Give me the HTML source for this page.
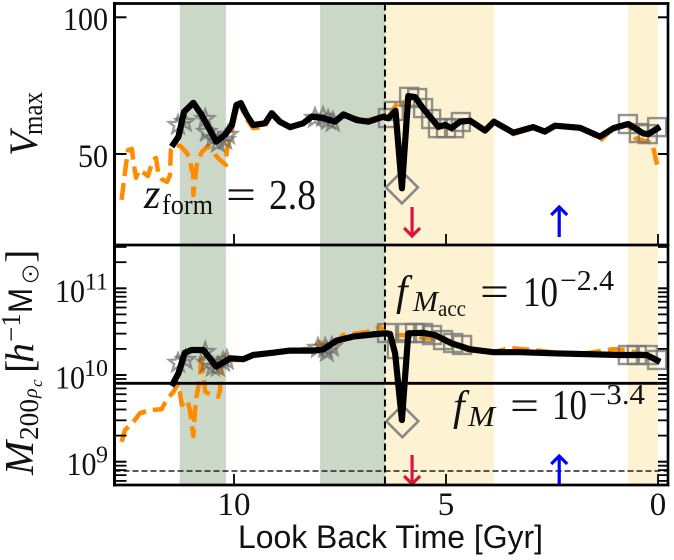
<!DOCTYPE html>
<html lang="en">
<head>
<meta charset="utf-8">
<title>Halo evolution chart</title>
<style>
html,body{margin:0;padding:0;background:#fff;width:674px;height:560px;overflow:hidden}
svg{display:block}
text{font-family:"Liberation Serif",serif;fill:#111}
.sans{font-family:"Liberation Sans",sans-serif}
.it{font-style:italic}
</style>
</head>
<body>
<svg id="chart" width="674" height="560" viewBox="0 0 674 560" xmlns="http://www.w3.org/2000/svg">
  <g id="bands"></g>
  <g id="series"></g>
  <g id="axes"></g>

  <g>
    <text class="it" font-size="40" transform="translate(37,156) rotate(-90)">V</text>
    <text font-size="28" textLength="43" lengthAdjust="spacingAndGlyphs" transform="translate(42,135) rotate(-90)">max</text>
  </g>
  <g>
    <text class="it" font-size="41" transform="translate(33,475) rotate(-90)">M</text>
    <text font-size="27" textLength="41" lengthAdjust="spacingAndGlyphs" transform="translate(38,440) rotate(-90)">200</text>
    <text class="it" font-size="20" transform="translate(37,398) rotate(-90)">ρ</text>
    <text class="it" font-size="17" transform="translate(42,387) rotate(-90)">c</text>
    <text font-size="40" transform="translate(33,373) rotate(-90)">[</text>
    <text class="it" font-size="40" transform="translate(33,363) rotate(-90)">h</text>
    <text font-size="27" transform="translate(20,342) rotate(-90)">−1</text>
    <text class="sans" font-size="34" textLength="25" lengthAdjust="spacingAndGlyphs" transform="translate(32,313) rotate(-90)">M</text>
    <circle cx="30.5" cy="274" r="7.5" fill="none" stroke="#111" stroke-width="1.2"/>
    <circle cx="30.5" cy="274" r="1.4" fill="#111"/>
    <text font-size="40" transform="translate(33,263) rotate(-90)">]</text>
  </g>
  <text class="sans" x="238" y="548" font-size="32" textLength="305" lengthAdjust="spacingAndGlyphs">Look Back Time [Gyr]</text>

  <g>
    <text class="it" x="144" y="208" font-size="42">z</text>
    <text x="162" y="214" font-size="28" textLength="51" lengthAdjust="spacingAndGlyphs">form</text>
    <text x="226" y="209" font-size="42" textLength="30" lengthAdjust="spacingAndGlyphs">=</text>
    <text x="269" y="209" font-size="42" textLength="47" lengthAdjust="spacingAndGlyphs">2.8</text>
  </g>
  <g>
    <text class="it" x="396" y="305" font-size="42">f</text>
    <text class="it" x="413" y="311" font-size="29" textLength="25" lengthAdjust="spacingAndGlyphs">M</text>
    <text x="438" y="316" font-size="23" textLength="28" lengthAdjust="spacingAndGlyphs">acc</text>
    <text x="480" y="306" font-size="42" textLength="29" lengthAdjust="spacingAndGlyphs">=</text>
    <text x="523" y="306" font-size="42" textLength="35" lengthAdjust="spacingAndGlyphs">10</text>
    <text x="560" y="290" font-size="29" textLength="54" lengthAdjust="spacingAndGlyphs">−2.4</text>
  </g>
  <g>
    <text class="it" x="453" y="420" font-size="42">f</text>
    <text class="it" x="468" y="426" font-size="29" textLength="27" lengthAdjust="spacingAndGlyphs">M</text>
    <text x="510" y="420" font-size="42" textLength="29" lengthAdjust="spacingAndGlyphs">=</text>
    <text x="552" y="419" font-size="42" textLength="35" lengthAdjust="spacingAndGlyphs">10</text>
    <text x="589" y="404" font-size="29" textLength="56" lengthAdjust="spacingAndGlyphs">−3.4</text>
  </g>
</svg>
<script>
// Axis values
const xTicks = [10, 5, 0];
const vTicks = [50, 100];
const massDecades = [-2, -1, 0, 1, 2];
const massMinorMultiples = [2, 3, 4, 5, 6, 7, 8, 9];
const massLabelExponents = [9, 10, 11];

// Shaded look-back-time intervals (Gyr)
const greenBandStarts = [11.28, 7.97];
const greenBandEnds = [10.19, 6.44];
const yellowBandStarts = [6.44, 0.71];
const yellowBandEnds = [3.87, 0];

const eventTime = 6.44;
const accretionArrowTime = 5.8;
const infallArrowTime = 2.33;
const massSolidLevel = 0.802;
const massDashedLevel = 0.0781;

// Vmax series
const vBlackT = [11.47,11.31,11.18,10.96,10.76,10.57,10.42,10.21,10.05,9.94,9.84,9.70,9.55,9.27,9.11,8.92,8.68,8.37,8.17,7.90,7.62,7.42,7.11,6.83,6.48,6.36,6.19,6.04,5.89,5.73,5.54,5.18,5.02,4.87,4.67,4.43,4.08,3.87,3.41,2.94,2.67,2.43,1.84,1.37,1.05,0.70,0.35,0.23,-0.05];
const vBlackV = [51.9,54.6,61.9,64.8,60.9,56.5,53.2,55.1,57.9,64.1,64.7,60.9,57.9,58.4,61.5,58.9,57.3,58.4,60.4,60,58.9,61.1,59.4,58.9,60.4,59.9,62.2,42,67.1,66.7,63,57.4,57.9,57,58.9,59.2,56.3,58.9,55.7,57.3,56,57.7,57.1,54.6,57,58.2,55.5,55.3,57.4];
const vOrangeT = [12.65,12.57,12.50,12.41,12.36,12.31,12.24,12.15,12.03,11.91,11.84,11.79,11.70,11.58,11.51,11.49,11.39,11.27,11.13,11.04,11.00,10.96,10.96,10.88,10.76,10.61,10.38,10.19,10.17,10.05,9.95,9.86,9.72,9.55,9.27,9.13,8.92,8.68,8.37,8.18,7.90,7.62,7.43,7.12,6.84,6.49,6.37,6.18,6.08,5.97,5.73,5.54,5.19,5.02,4.86,4.67,4.43,4.08,3.87,3.42,2.95,2.67,2.43,1.84,1.60,1.37,1.06,0.71,0.54,0.14,0.02];
const vOrangeV = [39.6,45.6,51,51.3,47.3,44.3,46.1,45.6,44.7,48.5,49,45.6,44,43.4,44.9,51,52.3,52.1,50.5,49,46.1,45.5,40.6,47.3,50.5,52.1,49,47.3,51,56.5,63.1,64.4,60,57,57.3,61.2,58.8,57,58.2,60.3,60,58.8,61.2,60,59.4,60.6,60,64.1,62.5,65.2,66.8,63.1,57,57.6,56.8,58.8,59.1,56.2,58.8,55.3,57,55.9,57.6,57,55.9,53.4,57,58.2,54.2,52.9,47.3];
const vStarT = [11.32,11.16,10.68,10.64,10.50,10.38,10.21,10.14,8.09,7.90,7.78,7.67];
const vStarV = [57.9,58.8,59.7,55.9,54.2,52.9,53.7,55.1,60,60.3,59.4,58.8];
const vSquareT = [6.37,6.23,5.87,5.68,5.54,5.35,5.19,5.00,4.81,4.65,0.71,0.45,0.24,0.02];
const vSquareV = [60,62.2,66.8,66.4,63.1,59.7,57,57,57,58.8,58.2,55.6,55.3,57.3];
const vDiamondT = [6.04];
const vDiamondV = [42.2];

// Mass series (units of 1e10 / h solar masses)
const mBlackT = [11.47,11.31,11.16,11.00,10.72,10.42,10.09,9.78,9.55,9.07,8.68,8.13,7.89,7.58,7.19,6.63,6.40,6.32,6.20,6.04,5.89,5.54,5.26,4.87,4.43,3.88,3.25,2.47,0.90,0.27,-0.05];
const mBlackM = [0.746,1.05,1.81,1.94,1.94,1.25,1.56,1.52,1.70,1.81,1.91,1.91,1.98,2.49,2.77,2.97,3.03,2.97,1.78,0.303,3.03,3.07,2.89,2.32,1.98,1.83,1.83,1.78,1.70,1.70,1.42];
const mOrangeT = [12.65,12.57,12.37,12.22,11.98,11.71,11.59,11.43,11.31,11.23,11.10,11.04,10.96,10.90,10.80,10.78,10.68,10.53,10.37,10.33,10.29,10.09,9.79,9.55,9.08,8.68,8.14,7.97,7.74,7.43,6.86,6.56,6.32,6.04,5.54,5.14,4.50,3.87,3.49,2.95,2.31,1.67,1.06,0.78,0.26,-0.05];
const mOrangeM = [0.170,0.232,0.289,0.362,0.395,0.402,0.515,0.642,0.802,0.451,0.515,0.395,0.198,0.515,0.916,1.78,0.642,0.588,0.562,0.671,1.78,1.49,1.49,1.66,1.79,1.89,2.05,2.40,1.94,2.89,3.13,3.58,2.74,2.89,2.67,2.60,1.94,1.84,2.05,1.94,1.79,1.79,1.99,1.94,1.70,1.41];
const mStarT = [11.32,11.14,10.68,10.64,10.50,10.38,10.26,10.17,8.02,7.85,7.69,7.81];
const mStarM = [1.38,1.49,1.84,1.38,1.24,1.24,1.41,1.49,2.05,2.05,2.10,1.84];
const mSquareT = [6.39,6.16,5.92,5.73,5.54,5.33,5.07,4.83,4.62,0.71,0.50,0.24,0.02];
const mSquareM = [3.05,1.99,3.05,3.05,3.05,2.89,2.53,2.34,2.22,1.70,1.70,1.70,1.49];
const mDiamondT = [6.03];
const mDiamondM = [0.293];

// Axis functions and layout
const LEFT = 114.5, RIGHT = 668, TOP = 3.5, MID = 245, BOTTOM = 485;
const xT = t => 658 - 42.4 * t;
const yV = v => 17.3 + 454 * Math.log10(100 / v);
const yM = m => 375 - 86.7 * Math.log10(m);

const NS = 'http://www.w3.org/2000/svg';
const bandsLayer = document.getElementById('bands');
const seriesLayer = document.getElementById('series');
const axesLayer = document.getElementById('axes');

function make(tag, parent, attrs) {
  const el = document.createElementNS(NS, tag);
  for (const k in attrs) el.setAttribute(k, attrs[k]);
  parent.appendChild(el);
  return el;
}

function drawBand(t0, t1, color) {
  const el = make('rect', bandsLayer, {x: xT(t0), y: TOP, width: xT(t1) - xT(t0), height: BOTTOM - TOP, fill: color});
  
  
}
greenBandStarts.forEach((s, i) => drawBand(s, greenBandEnds[i], '#cbd8c8'));
yellowBandStarts.forEach((s, i) => drawBand(s, yellowBandEnds[i], '#fdf3d3'));

function pathFrom(ts, vs, yFn) {
  return ts.map((t, i) => (i ? 'L' : 'M') + xT(t).toFixed(1) + ' ' + yFn(vs[i]).toFixed(1)).join(' ');
}
function drawOrange(ts, vs, yFn) {
  const el = make('path', seriesLayer, {d: pathFrom(ts, vs, yFn), fill: 'none', stroke: '#ff8c00', 'stroke-width': 4.5, 'stroke-dasharray': '17 7', 'stroke-linejoin': 'round'});
  
  
}
function drawBlack(ts, vs, yFn) {
  const el = make('path', seriesLayer, {d: pathFrom(ts, vs, yFn), fill: 'none', stroke: '#000', 'stroke-width': 6.2, 'stroke-linejoin': 'round', 'stroke-linecap': 'butt'});
  
  
}
function drawStars(ts, vs, yFn) {
  ts.forEach((t, i) => {
    const cx = xT(t), cy = yFn(vs[i]);
    let pts = '';
    for (let k = 0; k < 10; k++) {
      const r = k % 2 ? 4 : 9.5, a = -Math.PI / 2 + k * Math.PI / 5;
      pts += (cx + r * Math.cos(a)).toFixed(1) + ',' + (cy + r * Math.sin(a)).toFixed(1) + ' ';
    }
    const el = make('polygon', seriesLayer, {points: pts, fill: 'none', stroke: '#666', 'stroke-width': 2.4, opacity: 0.65});
    
    
  });
}
function drawSquares(ts, vs, yFn) {
  ts.forEach((t, i) => {
    const el = make('rect', seriesLayer, {x: xT(t) - 9, y: yFn(vs[i]) - 9, width: 18, height: 18, fill: 'none', stroke: '#777', 'stroke-width': 2.4, opacity: 0.8});
    
    
  });
}
function drawDiamonds(ts, vs, yFn) {
  ts.forEach((t, i) => {
    const cx = xT(t), cy = yFn(vs[i]), r = 16;
    const el = make('polygon', seriesLayer, {points: `${cx},${cy - r} ${cx + r},${cy} ${cx},${cy + r} ${cx - r},${cy}`, fill: 'none', stroke: '#888', 'stroke-width': 2.6});
    
    
  });
}

drawOrange(vOrangeT, vOrangeV, yV);
drawOrange(mOrangeT, mOrangeM, yM);
drawStars(vStarT, vStarV, yV);
drawStars(mStarT, mStarM, yM);
drawSquares(vSquareT, vSquareV, yV);
drawSquares(mSquareT, mSquareM, yM);
drawDiamonds(vDiamondT, vDiamondV, yV);
drawDiamonds(mDiamondT, mDiamondM, yM);
drawBlack(vBlackT, vBlackV, yV);
drawBlack(mBlackT, mBlackM, yM);

// Reference lines
const solid = make('line', seriesLayer, {x1: LEFT, x2: RIGHT, y1: yM(massSolidLevel), y2: yM(massSolidLevel), stroke: '#000', 'stroke-width': 2.8});


const dashed = make('line', seriesLayer, {x1: LEFT, x2: RIGHT, y1: yM(massDashedLevel), y2: yM(massDashedLevel), stroke: '#222', 'stroke-width': 1.5, 'stroke-dasharray': '6 3'});


const eventLine = make('line', seriesLayer, {x1: xT(eventTime), x2: xT(eventTime), y1: TOP, y2: BOTTOM, stroke: '#000', 'stroke-width': 2, 'stroke-dasharray': '7 4'});



// Arrows
function drawArrow(t, yTop, yBottom, color, down, name) {
  const x = xT(t);
  const tipY = down ? yBottom : yTop;
  const dir = down ? -1 : 1;
  const el = make('path', seriesLayer, {d: `M${x} ${yTop} L${x} ${yBottom} M${x - 8} ${tipY + dir * 8} L${x} ${tipY} L${x + 8} ${tipY + dir * 8}`, fill: 'none', stroke: color, 'stroke-width': 3.2});
  
  
}
drawArrow(accretionArrowTime, 207, 236, '#dc143c', true, 'accretion-arrow-top');
drawArrow(infallArrowTime, 207, 237, '#0000ff', false, 'infall-arrow-top');
drawArrow(accretionArrowTime, 455, 484, '#dc143c', true, 'accretion-arrow-bottom');
drawArrow(infallArrowTime, 456, 485, '#0000ff', false, 'infall-arrow-bottom');

// Spines
function spine(x1, y1, x2, y2, w) {
  const el = make('line', axesLayer, {x1, y1, x2, y2, stroke: '#000', 'stroke-width': w, 'stroke-linecap': 'square'});
  
  
}
spine(LEFT, TOP, RIGHT, TOP, 2.8);
spine(LEFT, MID, RIGHT, MID, 2.8);
spine(LEFT, BOTTOM, RIGHT, BOTTOM, 2.8);
spine(LEFT, TOP, LEFT, BOTTOM, 3);
spine(RIGHT, TOP, RIGHT, BOTTOM, 2.6);

function tick(x1, y1, x2, y2, w) {
  const el = make('line', axesLayer, {x1, y1, x2, y2, stroke: '#000', 'stroke-width': w});
  
  
}
function yTick(y, w) {
  tick(LEFT, y, LEFT + 12, y, w);
  tick(RIGHT, y, RIGHT - 10, y, w);
}
xTicks.forEach(t => {
  tick(xT(t), MID, xT(t), MID - 11, 1.8);
  tick(xT(t), BOTTOM, xT(t), BOTTOM - 11, 1.8);
  const label = make('text', axesLayer, {x: xT(t), y: 515, 'font-size': 33, 'text-anchor': 'middle'});
  label.textContent = String(t);
  
  
});
vTicks.forEach(v => {
  yTick(yV(v), 2);
  const label = make('text', axesLayer, {x: 108, y: yV(v) + 12.8, 'font-size': 33, 'text-anchor': 'end', textLength: String(v).length * 15, lengthAdjust: 'spacingAndGlyphs'});
  label.textContent = String(v);
  
  
});
massDecades.forEach(d => {
  const major = Math.pow(10, d);
  if (yM(major) > MID && yM(major) < BOTTOM) yTick(yM(major), 2);
  massMinorMultiples.forEach(k => {
    const y = yM(k * major);
    if (y > MID && y < BOTTOM) yTick(y, 1.8);
  });
});
massLabelExponents.forEach(e => {
  const y = yM(Math.pow(10, e - 10));
  const sup = String(e);
  const supW = sup.length * 11.5;
  const base = make('text', axesLayer, {x: 108 - supW, y: y + 13.5, 'font-size': 33, 'text-anchor': 'end', textLength: 30, lengthAdjust: 'spacingAndGlyphs'});
  base.textContent = '10';
  
  
  const exp = make('text', axesLayer, {x: 108, y: y + 1, 'font-size': 24, 'text-anchor': 'end'});
  exp.textContent = sup;
  
  
});
</script>
</body>
</html>
